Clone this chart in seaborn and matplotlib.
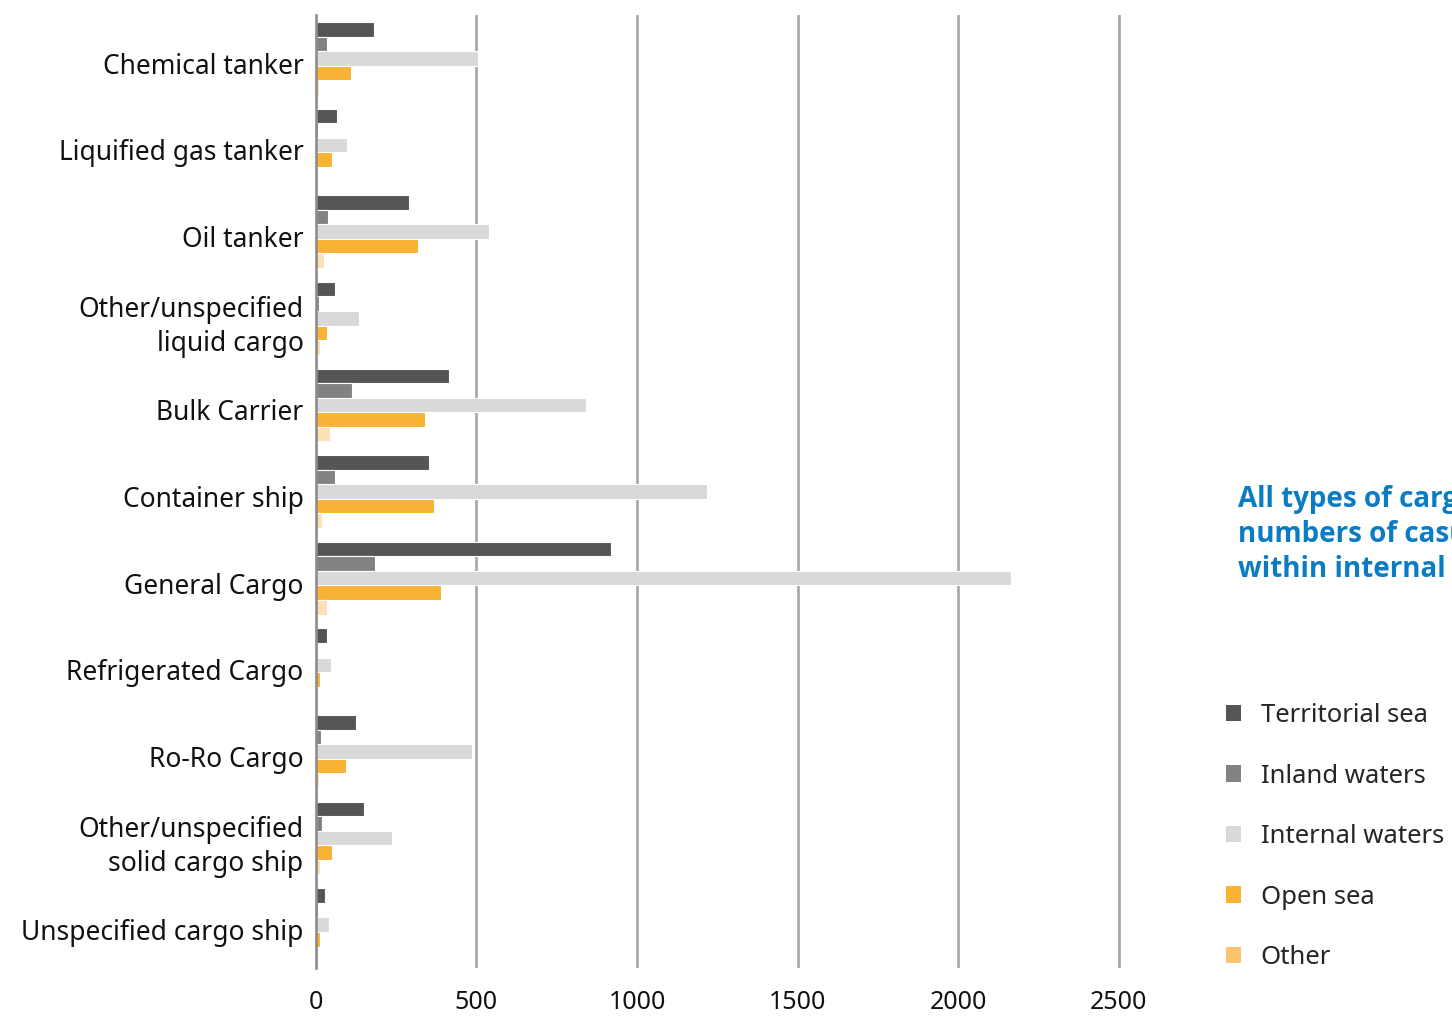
import matplotlib
matplotlib.use("Agg")
import numpy as np
import pandas as pd
import matplotlib.pyplot as plt
import matplotlib.transforms as mtrans
import seaborn as sns
from matplotlib.patches import Patch

ships = ["Chemical tanker", "Liquified gas tanker", "Oil tanker",
         "Other/unspecified\nliquid cargo", "Bulk Carrier", "Container ship",
         "General Cargo", "Refrigerated Cargo", "Ro-Ro Cargo",
         "Other/unspecified\nsolid cargo ship", "Unspecified cargo ship"]
zones = ["Territorial sea", "Inland waters", "Internal waters", "Open sea", "Other"]

territorial = [181, 65, 290, 59, 414, 352, 919, 34, 125, 150, 28]
inland = [34, 6, 37, 9, 112, 59, 184, 3, 16, 19, 6]
internal = [505, 97, 539, 134, 841, 1218, 2165, 47, 486, 237, 40]
open_sea = [109, 50, 318, 34, 340, 367, 389, 12, 93, 50, 12]
other = [9, 3, 25, 12, 44, 19, 33, 3, 9, 12, 6]

bar_colors = ["#555555", "#828282", "#d9d9d9", "#f9b233", "#fde0b5"]
legend_colors = ["#555555", "#828282", "#d9d9d9", "#f9b233", "#fbc46e"]

rows = []
for zone, vals in zip(zones, [territorial, inland, internal, open_sea, other]):
    for ship, v in zip(ships, vals):
        rows.append({"ship": ship, "zone": zone, "count": v})
df = pd.DataFrame(rows)

sns.set_style("white")
plt.rcParams['font.family'] = ['Noto Sans', 'DejaVu Sans']

fig = plt.figure(figsize=(14.52, 10.16), dpi=100)
ax = fig.add_axes([0.2176, 0.0472, 0.597, 0.938])

sns.barplot(data=df, y="ship", x="count", hue="zone", order=ships, hue_order=zones,
            palette=bar_colors, saturation=1, orient="h", width=0.84,
            edgecolor="white", linewidth=0.8, ax=ax, legend=False)

ax.set_xlim(0, 2700)
ax.set_xticks([0, 500, 1000, 1500, 2000, 2500])
ax.set_xlabel("")
ax.set_ylabel("")
for x in [500, 1000, 1500, 2000, 2500]:
    ax.axvline(x, color="#a6a6a6", lw=1.9, zorder=0)
for s in ["top", "right", "bottom"]:
    ax.spines[s].set_visible(False)
ax.spines["left"].set_color("#8c8c8c")
ax.spines["left"].set_linewidth(1.9)
ax.tick_params(axis="x", length=0, pad=16, labelsize=18, labelcolor="#111111")
ax.tick_params(axis="y", length=0, pad=9, labelsize=19, labelcolor="#111111")
for t in ax.get_yticklabels():
    two_lines = "\n" in t.get_text()
    t.set_linespacing(1.3)
    dy = -2 if two_lines else -5
    t.set_transform(t.get_transform() + mtrans.ScaledTranslation(0, dy / 100, fig.dpi_scale_trans))

fig.text(0.8525, 0.4735, "All types of cargo ships show highest\nnumbers of casualties\nwithin internal waters",
         color="#0a7cc4", fontsize=20, fontweight="bold", va="center", ha="left",
         linespacing=1.27, family=["Open Sans", "DejaVu Sans"])

handles = [Patch(facecolor=c, edgecolor="none") for c in legend_colors]
fig.legend(handles, zones, loc="upper left", bbox_to_anchor=(0.8372, 0.318),
           frameon=False, fontsize=18.5, handlelength=0.6, handleheight=0.6,
           handletextpad=0.75, labelspacing=1.38, borderaxespad=0)

fig.savefig("out.png", dpi=100)
